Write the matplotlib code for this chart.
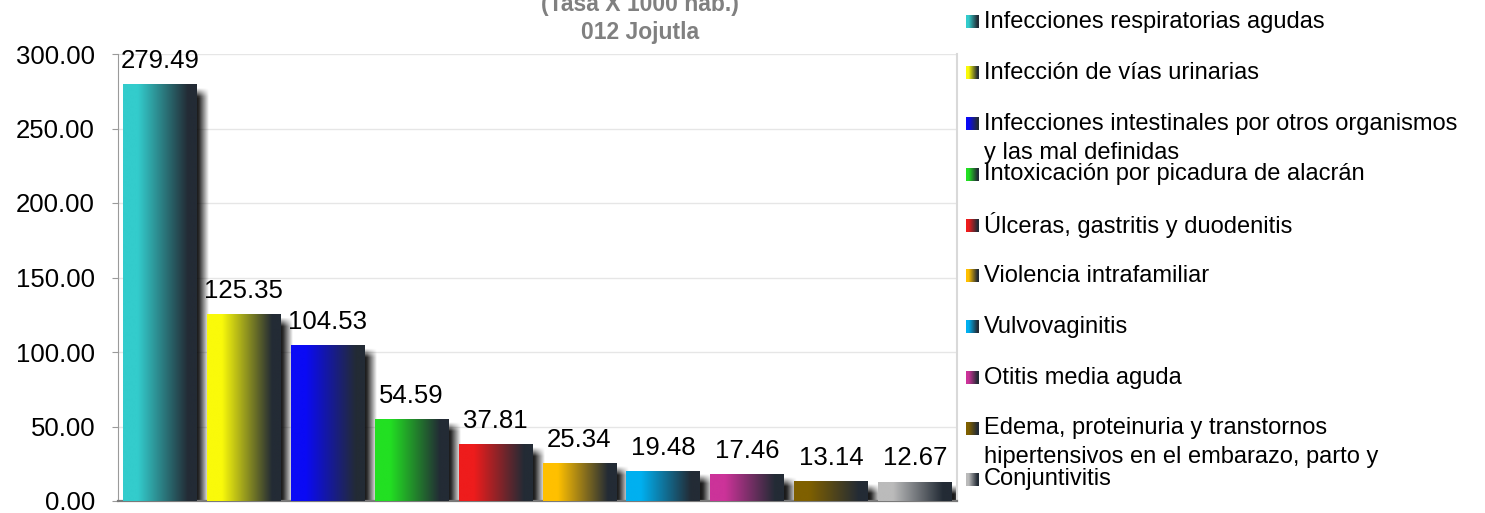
import numpy as np
import matplotlib
matplotlib.use("Agg")
import matplotlib.pyplot as plt
from matplotlib.colors import LinearSegmentedColormap

plt.rcParams['font.family'] = ['Liberation Sans', 'DejaVu Sans']

# data
causas = [
    "Infecciones respiratorias agudas",
    "Infección de vías urinarias",
    "Infecciones intestinales por otros organismos\ny las mal definidas",
    "Intoxicación por picadura de alacrán",
    "Úlceras, gastritis y duodenitis",
    "Violencia intrafamiliar",
    "Vulvovaginitis",
    "Otitis media aguda",
    "Edema, proteinuria y transtornos\nhipertensivos en el embarazo, parto y",
    "Conjuntivitis",
]
tasas = [279.49, 125.35, 104.53, 54.59, 37.81, 25.34, 19.48, 17.46, 13.14, 12.67]
colores = ["#33CCCC", "#FAFA0A", "#0A0AF5", "#22E022", "#EE1C1C",
           "#FFC000", "#00B0F0", "#CC3399", "#7F6000", "#BBBBBB"]
titulo = ["(Tasa X 1000 hab.)", "012 Jojutla"]
yticks = [0, 50, 100, 150, 200, 250, 300]

W, H = 1485, 513
DARK = "#232B35"
FS_NUM = 18.5
FS_LEG = 17


def gradient_cmap(c):
    return LinearSegmentedColormap.from_list("g", [(0, c), (0.2, c), (0.88, DARK), (1, DARK)])


fig = plt.figure(figsize=(W / 100, H / 100), dpi=100)
ax = fig.add_axes([118 / W, 12 / H, (957 - 118) / W, (501 - 54) / H])

x = np.arange(len(tasas))
bw = 0.88
grad = np.linspace(0, 1, 256).reshape(1, -1)

# soft shadows to the right of each bar
nx, ny = 40, 200
for xi, v in zip(x, tasas):
    x0, x1 = xi - bw / 2 + 0.1, xi + bw / 2 + 0.16
    top = v - 2.0
    xs = np.linspace(x0, x1, nx)
    ax_x = np.clip((x1 - xs) / 0.13, 0, 1)
    ys = np.linspace(0, top, ny)
    ax_y = np.clip((top - ys) / 6.0, 0, 1)
    alpha = np.outer(ax_y[::-1], ax_x) * 0.9
    rgba = np.zeros((ny, nx, 4))
    rgba[..., 3] = alpha
    ax.imshow(rgba, extent=(x0, x1, 0, top), aspect='auto', zorder=2, interpolation='bilinear')

# gradient bars
for xi, v, c in zip(x, tasas, colores):
    ax.imshow(grad, cmap=gradient_cmap(c), extent=(xi - bw / 2, xi + bw / 2, 0, v),
              aspect='auto', zorder=3, interpolation='bilinear')
    ax.annotate(f"{v:.2f}", (xi, v), xytext=(0, 12), textcoords='offset points',
                ha='center', va='baseline', fontsize=FS_NUM, color='black', zorder=5)

ax.set_xlim(-0.5, len(tasas) - 0.5)
ax.set_ylim(0, 300)
ax.set_yticks(yticks)
ax.set_yticklabels([f"{t:.2f}" for t in yticks], fontsize=FS_NUM)
ax.set_xticks([])
ax.yaxis.grid(True, color="#E6E6E6", linewidth=1)
ax.set_axisbelow(True)
ax.tick_params(axis='y', direction='out', length=4.5, color="#9A9A9A", pad=12)
ax.spines['left'].set_color("#9A9A9A")
ax.spines['bottom'].set_color("#7A7A7A")
ax.spines['bottom'].set_linewidth(1.6)
ax.spines['right'].set_color("#D9D9D9")
ax.spines['right'].set_linewidth(1.5)
ax.spines['top'].set_visible(False)

# title (partly cut at top in the reference)
fig.text(640 / W, 1 - 5 / H, titulo[0], ha='center', va='center', fontsize=16.5,
         fontweight='bold', color="#808080")
fig.text(640 / W, 1 - 33 / H, titulo[1], ha='center', va='center', fontsize=16.5,
         fontweight='bold', color="#808080")

# legend drawn in pixel coordinates
lg = fig.add_axes([0, 0, 1, 1], zorder=10)
lg.axis('off')
for i, (lab, c) in enumerate(zip(causas, colores)):
    yc = 22 + 50.8 * i
    lg.imshow(grad, cmap=gradient_cmap(c), extent=(966, 979, yc + 6.5, yc - 6.5),
              aspect='auto', interpolation='bilinear')
    for j, line in enumerate(lab.split("\n")):
        lg.text(984, yc + 29 * j, line, ha='left', va='center', fontsize=FS_LEG, color='black')
lg.set_xlim(0, W)
lg.set_ylim(H, 0)

fig.savefig("out.png", dpi=100)
